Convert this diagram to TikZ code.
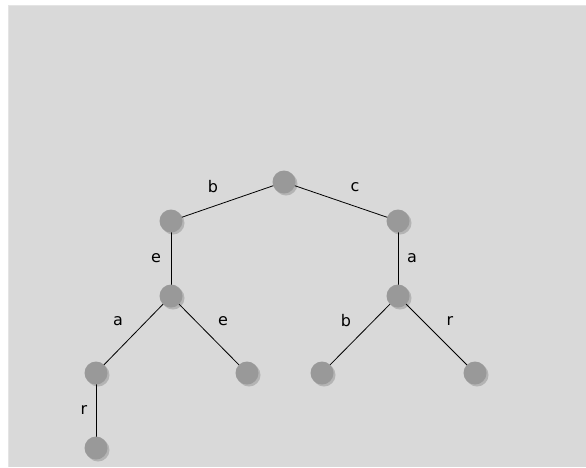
\documentclass[tikz,border=0pt]{standalone}
\usepackage{fontspec}
\setmainfont{DejaVu Sans}
\begin{document}
\begin{tikzpicture}[x=1pt,y=-1pt,
  vtx/.style={circle,fill=nodegray,minimum size=23pt,inner sep=0pt},
  shad/.style={circle,fill=shadgray,minimum size=23pt,inner sep=0pt},
  edge/.style={draw=black,line width=0.8pt},
  lbl/.style={font=\fontsize{16}{18}\selectfont,inner sep=0pt}]
\definecolor{nodegray}{HTML}{999999}
\definecolor{shadgray}{HTML}{B4B4B4}
\definecolor{bggray}{HTML}{D9D9D9}
\useasboundingbox (0,0) rectangle (586,467);
\fill[white] (0,0) rectangle (586,467);
\fill[bggray!70] (8,5) rectangle (586,467);
\fill[bggray] (9,6) rectangle (586,467);
% coordinates for node centres
\coordinate (c0) at (284,182);
\coordinate (c1) at (171,221);
\coordinate (c2) at (398,221);
\coordinate (c3) at (171,296);
\coordinate (c4) at (398,296);
\coordinate (c5) at (96,373);
\coordinate (c6) at (247,373);
\coordinate (c7) at (322,373);
\coordinate (c8) at (475,373);
\coordinate (c9) at (96,448);
% shadows
\foreach \i in {0,...,9}
  \node[shad] (s\i) at ([shift={(2,2)}]c\i) {};
% edges
\draw[edge] (c0) -- (c1);
\draw[edge] (c0) -- (c2);
\draw[edge] (c1) -- (c3);
\draw[edge] (c2) -- (c4);
\draw[edge] (c3) -- (c5);
\draw[edge] (c3) -- (c6);
\draw[edge] (c4) -- (c7);
\draw[edge] (c4) -- (c8);
\draw[edge] (c5) -- (c9);
% nodes
\foreach \i in {0,...,9}
  \node[vtx] (n\i) at (c\i) {};
% labels
\node[lbl] (l1) at (213,187) {b};
\node[lbl] (l2) at (355,187) {c};
\node[lbl] (l3) at (156,258) {e};
\node[lbl] (l4) at (412,258) {a};
\node[lbl] (l5) at (118,321) {a};
\node[lbl] (l6) at (223,321) {e};
\node[lbl] (l7) at (346,321) {b};
\node[lbl] (l8) at (450,321) {r};
\node[lbl] (l9) at (84,410) {r};
\end{tikzpicture}
\end{document}
